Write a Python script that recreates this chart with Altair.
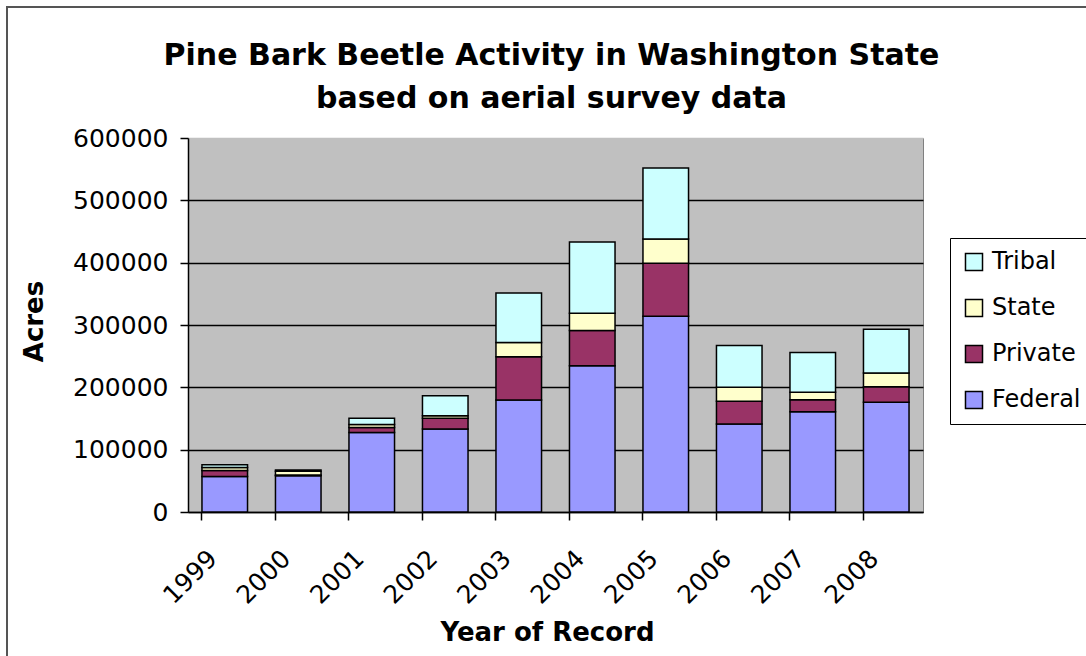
import altair as alt
import pandas as pd

years = ["1999", "2000", "2001", "2002", "2003", "2004", "2005", "2006", "2007", "2008"]
federal = [57000, 58000, 127500, 133000, 179500, 234500, 314000, 141000, 161000, 176000]
private = [9500, 1500, 8000, 17500, 69500, 56500, 85000, 36500, 19000, 25000]
state = [5000, 6000, 5000, 4000, 23000, 28000, 39000, 22500, 12000, 22000]
tribal = [4500, 2000, 10000, 32000, 79500, 114000, 114000, 67000, 64000, 70000]

series_names = ["Tribal", "State", "Private", "Federal"]
series_colors = ["#CCFFFF", "#FFFFCC", "#993366", "#9999FF"]
stack_rank = {"Federal": 0, "Private": 1, "State": 2, "Tribal": 3}
series_values = {"Federal": federal, "Private": private, "State": state, "Tribal": tribal}

rows = []
for name, vals in series_values.items():
    for y, v in zip(years, vals):
        rows.append({"Year": y, "Owner": name, "Acres": v, "rank": stack_rank[name]})
df = pd.DataFrame(rows)

FONT = "DejaVu Sans"

bars = alt.Chart(df).mark_bar(stroke="black", strokeWidth=1.5).encode(
    x=alt.X(
        "Year:N",
        sort=years,
        scale=alt.Scale(paddingInner=0.38, paddingOuter=0.19),
        axis=alt.Axis(
            title="Year of Record",
            labelAngle=315,
            labelAlign="right",
            labelBaseline="middle",
            labelPadding=34,
            labelOffset=-12,
            labelFontSize=25,
            labelFont=FONT,
            labelColor="black",
            tickSize=8,
            tickColor="black",
            tickWidth=1.5,
            bandPosition=0,
            domainColor="black",
            domainWidth=1.5,
            titleFont=FONT,
            titleFontSize=26,
            titleFontWeight="bold",
            titleColor="black",
            titleX=359,
            titleY=120,
            titleBaseline="middle",
            titleAlign="center",
        ),
    ),
    y=alt.Y(
        "Acres:Q",
        stack="zero",
        scale=alt.Scale(domain=[0, 600000], nice=False),
        axis=alt.Axis(
            title="Acres",
            values=[0, 100000, 200000, 300000, 400000, 500000, 600000],
            format="d",
            labelFontSize=25,
            labelFont=FONT,
            labelColor="black",
            labelPadding=12,
            tickSize=8,
            tickColor="black",
            tickWidth=1.5,
            domainColor="black",
            domainWidth=1.5,
            grid=True,
            gridColor=alt.condition("datum.value == 600000", alt.value("#C0C0C0"), alt.value("black")),
            gridWidth=1.5,
            titleFont=FONT,
            titleFontSize=26,
            titleFontWeight="bold",
            titleColor="black",
            titleAngle=270,
            titleX=-154,
            titleY=183,
            titleBaseline="middle",
            titleAlign="center",
        ),
    ),
    color=alt.Color(
        "Owner:N",
        scale=alt.Scale(domain=series_names, range=series_colors),
        legend=alt.Legend(
            title=None,
            orient="none",
            legendX=762,
            legendY=100,
            symbolType="square",
            symbolSize=290,
            symbolStrokeColor="black",
            symbolStrokeWidth=1.5,
            labelFont=FONT,
            labelFontSize=24,
            labelColor="black",
            rowPadding=22,
            padding=12,
            strokeColor="black",
            fillColor="white",
            labelOffset=6,
        ),
    ),
    order=alt.Order("rank:Q", sort="ascending"),
)

frame_df = pd.DataFrame({"k": [0]})
frame = alt.Chart(frame_df).mark_rect(fill=None, stroke="#555555", strokeWidth=2).encode(
    x=alt.value(-181), x2=alt.value(910), y=alt.value(-131), y2=alt.value(530)
)

chart = alt.layer(frame, bars).properties(
    width=735,
    height=374,
    autosize=alt.AutoSizeParams(type="none"),
    padding={"left": 188, "top": 138, "right": 163, "bottom": 144},
    background="white",
    title=alt.TitleParams(
        text=["Pine Bark Beetle Activity in Washington State", "based on aerial survey data"],
        font=FONT,
        fontSize=30,
        fontWeight="bold",
        color="black",
        lineHeight=43,
        anchor="middle",
        frame="group",
        offset=-108,
        dx=-4,
    ),
).configure_view(fill="#C0C0C0", stroke="#808080", strokeWidth=1)

chart.save("out.html", embed_options={"renderer": "svg", "actions": False})
